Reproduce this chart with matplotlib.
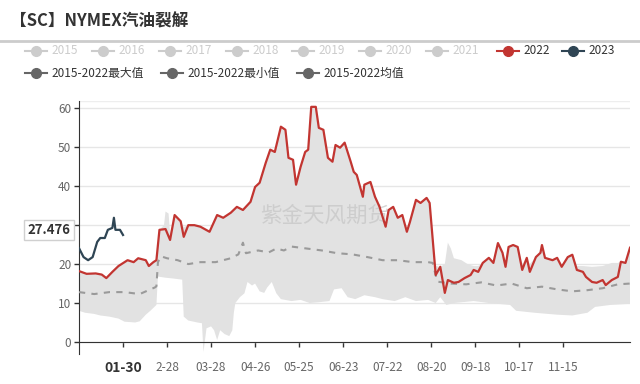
import numpy as np
import matplotlib
matplotlib.use("Agg")
import matplotlib.pyplot as plt
from matplotlib.lines import Line2D

##### 한글/중문 폰트 설정
plt.rcParams["font.family"] = ["Noto Sans CJK SC", "DejaVu Sans"]
plt.rcParams["axes.unicode_minus"] = False

# x축 : 1월1일부터의 일수 (0 ~ 364)
tick_days = [29, 58, 87, 116, 145, 174, 203, 232, 261, 290, 319]
tick_labels = ["01-30", "2-28", "03-28", "04-26", "05-25", "06-23",
               "07-22", "08-20", "09-18", "10-17", "11-15"]
y_ticks = [0, 10, 20, 30, 40, 50, 60]
y_tick_labels = ["0", "10", "20", "", "40", "50", "60"]  # 30 은 라벨박스에 가려짐

# 2022 (빨간선)
days_2022 = [0, 5, 11, 15, 18, 22, 26, 30, 32, 36, 39, 44, 46, 49, 51, 53, 57, 60, 63, 67,
             69, 72, 76, 80, 86, 91, 95, 100, 104, 108, 113, 116, 119, 123, 126, 129, 133, 136, 138, 141,
             143, 146, 149, 151, 153, 156, 158, 161, 164, 167, 169, 172, 175, 179, 181, 183, 187, 188, 192, 195,
             198, 202, 204, 207, 210, 213, 216, 218, 222, 225, 229, 231, 235, 238, 241, 243, 247, 250, 254, 258,
             260, 263, 266, 270, 273, 276, 279, 281, 283, 286, 289, 292, 295, 297, 301, 304, 305, 307, 312, 315,
             318, 322, 325, 328, 332, 334, 338, 341, 345, 347, 351, 355, 357, 360, 363]
vals_2022 = [18.2, 17.5, 17.6, 17.3, 16.4, 18.0, 19.5, 20.5, 21.0, 20.5, 21.5, 21.0, 19.5, 20.5, 21.0, 28.8, 29.0, 26.2, 32.6, 31.0,
             27.0, 30.0, 30.0, 29.6, 28.3, 32.6, 31.9, 33.2, 34.7, 33.9, 36.0, 39.8, 40.9, 46.0, 49.4, 48.8, 55.3, 54.5, 47.3, 46.8,
             40.4, 45.0, 48.8, 49.4, 60.4, 60.4, 55.0, 54.5, 47.3, 46.3, 50.6, 49.9, 51.2, 46.3, 43.7, 42.9, 37.3, 40.4, 41.1, 37.3,
             34.7, 29.6, 33.9, 34.7, 31.9, 32.6, 28.3, 30.8, 36.5, 35.7, 37.0, 35.7, 17.2, 19.3, 12.6, 15.9, 15.2, 15.4, 16.4, 17.2,
             18.5, 18.0, 20.3, 21.6, 20.3, 25.4, 22.9, 19.3, 24.4, 24.9, 24.4, 18.5, 21.6, 18.0, 21.8, 22.9, 24.9, 21.6, 21.0, 21.6,
             19.3, 21.8, 22.4, 18.5, 18.0, 16.7, 15.4, 15.2, 15.9, 14.6, 15.9, 16.7, 20.6, 20.3, 24.2]

# 2023 (남색선)
days_2023 = [0, 3, 6, 9, 12, 14, 17, 19, 22, 23, 24, 27, 29]
vals_2023 = [24.1, 21.8, 21.0, 21.8, 25.7, 26.7, 26.7, 28.8, 29.3, 31.9, 28.8, 28.8, 27.476]

# 2015-2022 최대값
max_days = [0, 5, 11, 15, 18, 22, 26, 30, 32, 36, 39, 44, 46, 49, 51, 53, 56, 57, 59, 60,
            63, 67, 69, 72, 76, 80, 86, 91, 95, 100, 104, 108, 113, 116, 119, 123, 126, 129, 133, 136,
            138, 141, 143, 146, 149, 151, 153, 156, 158, 161, 164, 167, 169, 172, 175, 179, 181, 183, 187, 188,
            192, 195, 198, 202, 204, 207, 210, 213, 216, 218, 222, 225, 229, 231, 235, 238, 241, 243, 245, 247,
            252, 256, 260, 263, 266, 270, 273, 276, 279, 281, 283, 286, 289, 292, 295, 297, 301, 304, 305, 307,
            312, 315, 318, 322, 325, 328, 332, 338, 345, 351, 355, 357, 360, 363]
max_vals = [18.2, 17.5, 17.6, 17.3, 16.4, 18.0, 19.5, 20.5, 21.0, 20.5, 21.5, 21.0, 19.5, 20.5, 21.0, 28.8, 30.0, 33.5, 33.0, 28.0,
            32.6, 31.0, 29.5, 30.0, 30.0, 29.6, 28.3, 32.6, 31.9, 33.2, 34.7, 33.9, 36.0, 39.8, 40.9, 46.0, 49.4, 48.8, 55.3, 54.5,
            47.3, 46.8, 40.4, 45.0, 48.8, 49.4, 60.4, 60.4, 55.0, 54.5, 47.3, 46.3, 50.6, 49.9, 51.2, 46.3, 43.7, 42.9, 37.3, 40.4,
            41.1, 37.3, 34.7, 29.6, 33.9, 34.7, 31.9, 32.6, 28.3, 30.8, 36.5, 35.7, 37.0, 35.7, 19.5, 19.3, 20.0, 25.5, 24.0, 21.5,
            21.0, 20.0, 19.5, 19.5, 20.3, 21.6, 20.3, 25.4, 22.9, 21.0, 24.4, 24.9, 24.4, 20.0, 21.6, 20.0, 21.8, 22.9, 24.9, 21.6,
            21.0, 21.6, 19.8, 21.8, 22.4, 19.5, 19.5, 19.3, 19.5, 20.3, 20.3, 20.6, 20.3, 24.2]

# 2015-2022 최소값
min_days = [0, 4, 10, 14, 20, 26, 30, 37, 40, 44, 47, 51, 52, 57, 62, 68, 69, 72, 78, 81,
            82, 84, 87, 89, 91, 93, 96, 99, 101, 102, 103, 106, 109, 111, 114, 116, 119, 122, 124, 127,
            130, 133, 140, 146, 152, 158, 165, 168, 173, 177, 182, 188, 195, 200, 208, 215, 222, 230, 235, 238,
            242, 247, 260, 270, 284, 288, 300, 315, 325, 335, 340, 350, 363]
min_vals = [8.0, 7.5, 7.2, 6.8, 6.5, 6.0, 5.2, 5.0, 5.3, 7.0, 8.0, 9.5, 16.8, 16.5, 16.3, 16.0, 6.5, 5.5, 5.0, 4.8,
            -2.6, 3.5, 4.0, 3.0, 0.5, 3.0, 2.0, 1.5, 3.0, 7.5, 10.0, 11.5, 12.5, 15.4, 14.5, 15.0, 13.0, 12.6, 14.0, 15.4,
            12.5, 11.0, 10.5, 10.8, 10.0, 10.2, 10.5, 13.5, 13.8, 11.5, 11.0, 12.0, 11.5, 11.0, 10.5, 11.5, 10.5, 10.8, 10.0, 11.5,
            9.5, 10.0, 10.5, 10.0, 9.5, 8.0, 7.5, 7.0, 6.8, 7.5, 9.0, 9.5, 9.8]

# 2015-2022 평균값
mean_days = [0, 10, 20, 30, 40, 47, 50, 51, 52, 54, 58, 65, 72, 80, 90, 100, 105, 108, 110, 118,
             125, 130, 135, 140, 150, 160, 170, 180, 190, 200, 210, 220, 230, 233, 236, 245, 255, 265, 275, 285,
             295, 305, 315, 325, 335, 345, 355, 363]
mean_vals = [12.8, 12.3, 12.8, 12.8, 12.3, 13.5, 14.0, 14.3, 20.5, 22.0, 21.5, 21.0, 20.0, 20.5, 20.5, 21.5, 22.5, 25.5, 22.8, 23.5,
             23.0, 24.0, 23.5, 24.5, 24.0, 23.5, 22.8, 22.5, 21.8, 21.0, 21.0, 20.5, 20.5, 20.3, 15.5, 15.0, 14.8, 15.3, 14.5, 15.0,
             13.8, 14.2, 13.5, 13.0, 13.3, 13.8, 14.8, 15.0]

legend_row1 = ["2015", "2016", "2017", "2018", "2019", "2020", "2021", "2022", "2023"]
legend_row2 = ["2015-2022最大值", "2015-2022最小值", "2015-2022均值"]

RED = "#c23531"
NAVY = "#2f4554"

fig = plt.figure(figsize=(6.4, 3.84), dpi=100)
ax = fig.add_axes([79 / 640, 30 / 384, 551 / 640, 253 / 384])

# 최대/최소 음영 영역
band_x = np.concatenate([max_days, min_days[::-1]])
band_y = np.concatenate([max_vals, min_vals[::-1]])
ax.fill(band_x, band_y, color="#e2e2e2", lw=0, zorder=1)

ax.plot(mean_days, mean_vals, color="#9a9a9a", lw=1.5, dashes=(3, 3), zorder=3)
ax.plot(days_2022, vals_2022, color=RED, lw=1.6, zorder=4)
ax.plot(days_2023, vals_2023, color=NAVY, lw=1.6, zorder=5)

ax.text(0.4465, 0.545, "紫金天风期货", transform=ax.transAxes, ha="center", va="center",
        fontsize=15.5, color="#c8c8c8", alpha=0.8, zorder=2)

ax.set_xlim(0, 363)
ax.set_ylim(-3.1, 61.9)
ax.set_yticks(y_ticks)
ax.set_yticklabels(y_tick_labels)
ax.set_xticks(tick_days)
ax.set_xticklabels(tick_labels)
ax.yaxis.grid(True, color="#e6e6e6", lw=1)
ax.set_axisbelow(True)

for s in ["top", "right"]:
    ax.spines[s].set_visible(False)
ax.spines["left"].set_color("#333333")
ax.spines["bottom"].set_color("#333333")
ax.spines["bottom"].set_position(("data", 0))
ax.axhline(61.9, color="#eeeeee", lw=1, zorder=0)
ax.tick_params(axis="y", length=3.5, width=1, color="#333333", labelcolor="#666666", labelsize=8.5, pad=2)
ax.tick_params(axis="x", length=3.5, width=1, color="#333333", labelcolor="#666666", labelsize=8.5, pad=10)
first = ax.get_xticklabels()[0]
first.set_fontweight("bold")
first.set_color("#333333")
first.set_fontsize(10)

# 제목 + 구분선
fig.text(10 / 640, 1 - 22 / 384, "【SC】NYMEX汽油裂解", fontsize=12, fontweight="bold",
         color="#333333", ha="left", va="center")
fig.add_artist(Line2D([0, 1], [1 - 41 / 384, 1 - 41 / 384], color="#cccccc", lw=2))

# 범례 (수동)
def legend_item(cx, cy, label, color, tcolor):
    y = 1 - cy / 384
    fig.add_artist(Line2D([(cx - 11) / 640, (cx + 11) / 640], [y, y], color=color, lw=1.5))
    fig.add_artist(Line2D([cx / 640], [y], marker="o", markersize=7, color=color))
    fig.text((cx + 15) / 640, y, label, fontsize=8.5, color=tcolor, ha="left", va="center")

row1_x = [36, 103, 170, 237, 303, 370, 437, 508, 573]
for i, lab in enumerate(legend_row1):
    if lab == "2022":
        legend_item(row1_x[i], 51, lab, RED, "#333333")
    elif lab == "2023":
        legend_item(row1_x[i], 51, lab, NAVY, "#333333")
    else:
        legend_item(row1_x[i], 51, lab, "#cccccc", "#cccccc")

row2_x = [36, 172, 308]
for i, lab in enumerate(legend_row2):
    legend_item(row2_x[i], 73, lab, "#666666", "#333333")

# 최신값 라벨
fig.text(49 / 640, 1 - 230 / 384, f"{vals_2023[-1]:.3f}", fontsize=9.5, fontweight="bold",
         color="#333333", ha="center", va="center",
         bbox=dict(boxstyle="square,pad=0.25", fc="white", ec="#d0d0d0", lw=1))

fig.savefig("out.png", dpi=100)
